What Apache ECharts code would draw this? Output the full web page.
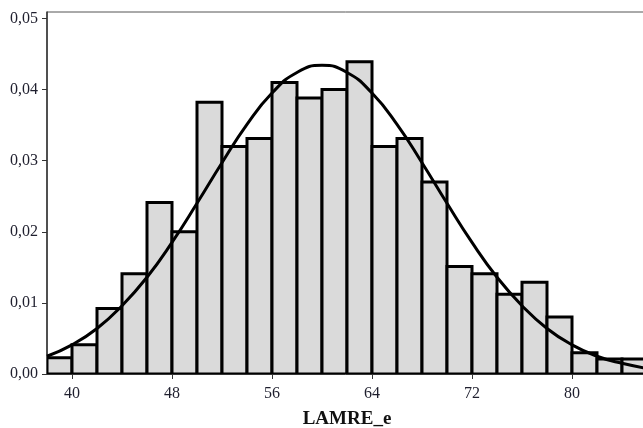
<!DOCTYPE html>
<html>
<head>
<meta charset="utf-8">
<script src="https://cdn.jsdelivr.net/npm/echarts@6/dist/echarts.min.js"></script>
<style>
  html, body { margin: 0; padding: 0; background: #fff; }
  #chart { width: 643px; height: 428px; }
</style>
</head>
<body>
<div id="chart"></div>
<script>
// histogram bins (left edges, width 2) and density heights
const binStarts = [38, 40, 42, 44, 46, 48, 50, 52, 54, 56, 58, 60, 62, 64, 66, 68, 70, 72, 74, 76, 78, 80, 82, 84]
const binWidth = 2
const density = [0.0023, 0.0041, 0.0092, 0.0141, 0.0241, 0.0200, 0.0382, 0.0320, 0.0331, 0.0410, 0.0388, 0.0400,
  0.0439, 0.0320, 0.0331, 0.0270, 0.0151, 0.0141, 0.0112, 0.0129, 0.0080, 0.0030, 0.0021, 0.0021]

// fitted normal curve
const curveX = [38, 40, 42, 44, 46, 48, 50, 52, 54, 56, 58, 60, 62, 64, 66, 68, 70, 72, 74, 76, 78, 80, 82, 84, 86]
const curveY = [0.0025, 0.0041, 0.0064, 0.0096, 0.0136, 0.0185, 0.0240, 0.0297, 0.0351, 0.0395, 0.0424, 0.0434,
  0.0424, 0.0395, 0.0351, 0.0297, 0.0240, 0.0185, 0.0136, 0.0096, 0.0064, 0.0041, 0.0025, 0.0015, 0.0008]

const xTicks = [40, 48, 56, 64, 72, 80]
const yTicks = [0, 0.01, 0.02, 0.03, 0.04, 0.05]

const chart = echarts.init(document.getElementById('chart'))

const labelFont = {
  fontFamily: 'Liberation Serif',
  fontSize: 16,
  color: '#1f1f2e'
}

const option = {
  animation: false,
  grid: {
    left: 47,
    top: 12,
    right: -4,
    bottom: 54,
    containLabel: false,
    outerBoundsMode: 'none',
    show: true,
    borderColor: '#555',
    borderWidth: 1
  },
  xAxis: {
    type: 'value',
    min: 38,
    max: 86,
    name: 'LAMRE_e',
    nameLocation: 'middle',
    nameGap: 36,
    nameTextStyle: {
      fontFamily: 'Liberation Serif',
      fontSize: 19,
      fontWeight: 'bold',
      color: '#111'
    },
    axisLine: { lineStyle: { color: '#333', width: 1 } },
    axisTick: { customValues: xTicks, length: 5, lineStyle: { color: '#333' } },
    axisLabel: { customValues: xTicks, margin: 12, ...labelFont },
    splitLine: { show: false }
  },
  yAxis: {
    type: 'value',
    min: 0,
    max: 0.0509,
    axisLine: { show: true, lineStyle: { color: '#333', width: 1.5 } },
    axisTick: { show: true, customValues: yTicks, length: 5, lineStyle: { color: '#333' } },
    axisLabel: {
      customValues: yTicks,
      margin: 9,
      ...labelFont,
      formatter: v => v.toFixed(2).replace('.', ',')
    },
    splitLine: { show: false }
  },
  series: [
    {
      type: 'custom',
      data: binStarts.map((s, i) => [s, s + binWidth, density[i]]),
      renderItem: (params, api) => {
        const p0 = api.coord([api.value(0), api.value(2)])
        const p1 = api.coord([api.value(1), 0])
        return {
          type: 'rect',
          shape: { x: p0[0], y: p0[1], width: p1[0] - p0[0], height: p1[1] - p0[1] },
          style: { fill: '#dadada', stroke: '#000', lineWidth: 3 }
        }
      },
      clip: true,
      z: 2
    },
    {
      type: 'line',
      data: curveX.map((x, i) => [x, curveY[i]]),
      smooth: true,
      showSymbol: false,
      lineStyle: { color: '#000', width: 3 },
      z: 3
    }
  ]
}

chart.setOption(option)
</script>
</body>
</html>
